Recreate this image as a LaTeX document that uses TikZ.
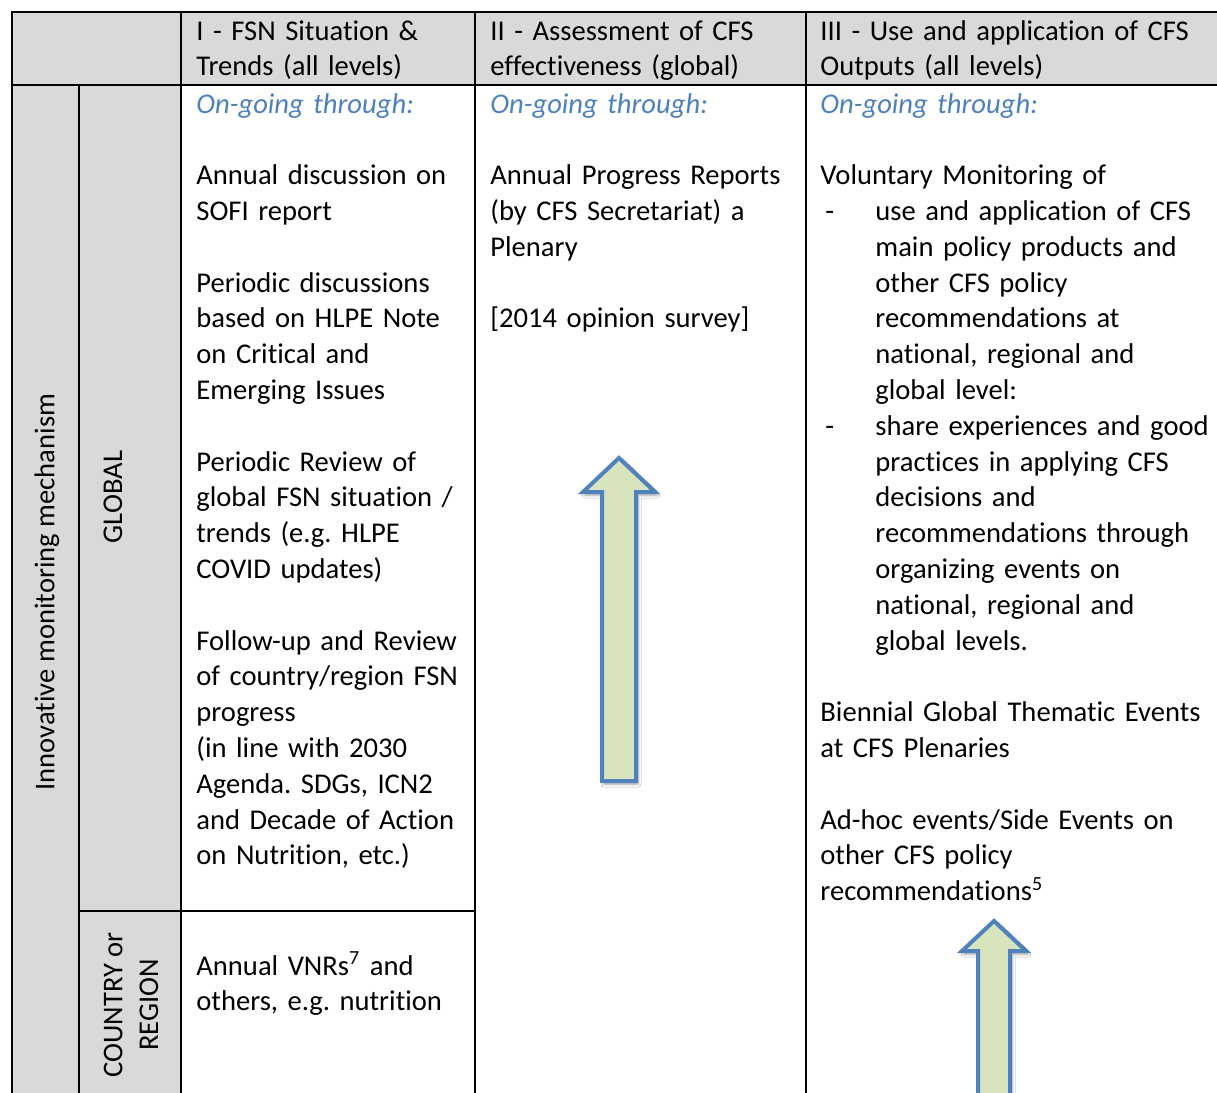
\documentclass[tikz,border=0pt]{standalone}
\usepackage{fontspec}
\setmainfont{Carlito}[Ligatures={NoCommon}]
\usepackage{xcolor}
\usepackage{tikz}
\usetikzlibrary{shadows.blur}
\frenchspacing
\definecolor{cellgray}{RGB}{217,217,217}
\definecolor{ongoing}{RGB}{79,129,189}
\definecolor{arrowblue}{RGB}{79,129,189}
\definecolor{arrowgreen}{RGB}{215,228,189}
\tikzstyle{tableline} = [line width=1pt]
\tikzstyle{cell} = [anchor=base west,inner sep=0pt,text width=210pt,align=left,font=\fontsize{14.3}{17.9}\selectfont\frenchspacing]
\tikzstyle{sidelabel} = [rotate=90,inner sep=0pt,align=center,font=\fontsize{14.3}{17.9}\selectfont]
\tikzstyle{uparrow} = [draw=arrowblue,fill=arrowgreen,line width=2pt,line join=miter,blur shadow={shadow xshift=1pt,shadow yshift=-1.5pt,shadow blur radius=1.5pt}]
\newcommand{\ongo}{{\itshape\color{ongoing}On-going through:}}
\newcommand{\gapline}{\\[17.9pt]}
\newcommand{\dashmark}{\makebox[27.5pt][l]{\hspace{2.5pt}-}}
\newcommand{\subind}{\hspace*{27.5pt}}

\begin{document}
\begin{tikzpicture}[x=0.5pt,y=-0.5pt]
            % frame
            \useasboundingbox (0,0) rectangle (1217,1093);
            \clip (0,0) rectangle (1217,1093);
            \fill[white] (0,0) rectangle (1217,1093);
            \fill[cellgray] (12,12) rectangle (1217,85);
            \fill[cellgray] (12,85) rectangle (181,1093);
            % arrows
            \draw[uparrow] (602,781) -- (602,492) -- (583,492) -- (619,458) -- (655,492) -- (636,492) -- (636,781) -- cycle;
            \draw[uparrow] (978,1110) -- (978,951) -- (962,951) -- (994,921) -- (1026,951) -- (1010,951) -- (1010,1110) -- cycle;
            % rules
            \draw[tableline] (1217,12) -- (12,12) -- (12,1093);
            \draw[tableline] (12,85) -- (1217,85);
            \draw[tableline] (79,85) -- (79,1093);
            \draw[tableline] (181,12) -- (181,1093);
            \draw[tableline] (475,12) -- (475,1093);
            \draw[tableline] (806,12) -- (806,1093);
            \draw[tableline] (79,911) -- (475,911);
            % headings
            \node[cell] (hdA) at (196,40) {I - FSN Situation \&\\ Trends (all levels)};
            \node[cell] (hdB) at (490,40) {II - Assessment of CFS\\ effectiveness (global)};
            \node[cell] (hdC) at (820,40) {III - Use and application of CFS\\ Outputs (all levels)};
            \node[sidelabel] (mech) at (47,592) {Innovative monitoring mechanism};
            \node[sidelabel] (global) at (113,497) {GLOBAL};
            \node[sidelabel] (country) at (131,1005) {COUNTRY or\\ REGION};
            % cells
            \node[cell] (bodyA) at (196,113) {\ongo\gapline
                Annual discussion on\\ SOFI report\gapline
                Periodic discussions\\ based on HLPE Note\\ on Critical and\\ Emerging Issues\gapline
                Periodic Review of\\ global FSN situation /\\ trends (e.g. HLPE\\ COVID updates)\gapline
                Follow-up and Review\\ of country/region FSN\\ progress\\ (in line with 2030\\ Agenda. SDGs, ICN2\\ and Decade of Action\\ on Nutrition, etc.)};
            \node[cell] (bodyB) at (490,113) {\ongo\gapline
                Annual Progress Reports\\ (by CFS Secretariat) a\\ Plenary\gapline
                [2014 opinion survey]};
            \node[cell] (bodyC) at (820,113) {\ongo\gapline
                Voluntary Monitoring of\\
                \dashmark use and application of CFS\\
                \subind main policy products and\\
                \subind other CFS policy\\
                \subind recommendations at\\
                \subind national, regional and\\
                \subind global level:\\
                \dashmark share experiences and good\\
                \subind practices in applying CFS\\
                \subind decisions and\\
                \subind recommendations through\\
                \subind organizing events on\\
                \subind national, regional and\\
                \subind global levels.\gapline
                Biennial Global Thematic Events\\ at CFS Plenaries\gapline
                Ad-hoc events/Side Events on\\ other CFS policy\\ recommendations\textsuperscript{5}};
            \node[cell] (countryA) at (196,975) {Annual VNRs\textsuperscript{7} and\\ others, e.g. nutrition};
\end{tikzpicture}
\end{document}
